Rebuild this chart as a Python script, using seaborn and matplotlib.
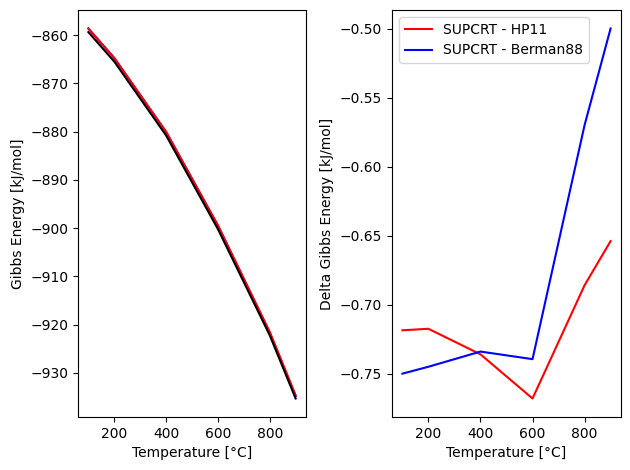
import matplotlib
matplotlib.use("Agg")
import matplotlib.pyplot as plt
import numpy as np
import seaborn as sns

temps = [100, 200, 400, 600, 800, 900]
g_supcrt = [-859.4, -865.5, -880.8, -900.2, -922.2, -935.3]
d_hp11 = [-0.7186, -0.7175, -0.736, -0.768, -0.686, -0.654]
d_berman = [-0.750, -0.745, -0.734, -0.7395, -0.570, -0.500]

g_hp11 = list(np.array(g_supcrt) - np.array(d_hp11))
g_berman = list(np.array(g_supcrt) - np.array(d_berman))

fig, axs = plt.subplots(1, 2, figsize=(6.3, 4.7), dpi=100)

sns.lineplot(x=temps, y=g_berman, color="blue", ax=axs[0])
sns.lineplot(x=temps, y=g_hp11, color="red", ax=axs[0])
sns.lineplot(x=temps, y=g_supcrt, color="black", ax=axs[0])
axs[0].set_xlabel('Temperature [°C]')
axs[0].set_ylabel('Gibbs Energy [kJ/mol]')

sns.lineplot(x=temps, y=d_hp11, color="red", ax=axs[1], label='SUPCRT - HP11')
sns.lineplot(x=temps, y=d_berman, color="blue", ax=axs[1], label='SUPCRT - Berman88')
axs[1].set_xlabel('Temperature [°C]')
axs[1].set_ylabel('Delta Gibbs Energy [kJ/mol]')
axs[1].legend(loc='upper left')

axs[0].set_position([78 / 630, 1 - 417 / 470, 228 / 630, 407 / 470])
axs[1].set_position([392 / 630, 1 - 417 / 470, 229 / 630, 407 / 470])

plt.savefig("out.png")
